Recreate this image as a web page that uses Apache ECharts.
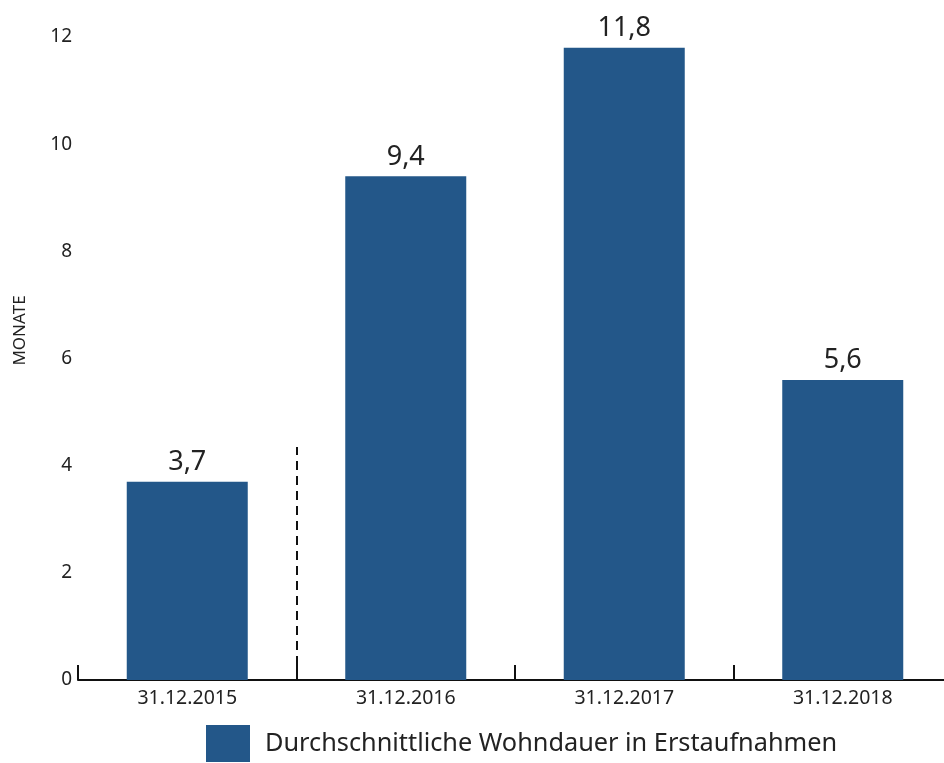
<!DOCTYPE html>
<html><head><meta charset="utf-8">
<script src="https://cdn.jsdelivr.net/npm/echarts@6/dist/echarts.min.js"></script>
<style>html,body{margin:0;padding:0;background:#fff}#c{width:944px;height:763px}</style>
</head><body><div id="c"></div>
<script>
const categories = ['31.12.2015', '31.12.2016', '31.12.2017', '31.12.2018'];
const values = [3.7, 9.4, 11.8, 5.6];
const seriesName = 'Durchschnittliche Wohndauer in Erstaufnahmen';
const yAxisName = 'MONATE';
const separatorAt = 1;      // boundary between 1st and 2nd category
const separatorTop = 4.35;  // height of dashed separator in months

const chart = echarts.init(document.getElementById('c'));
const font = '"Noto Sans", "Open Sans", sans-serif';
chart.setOption({
  animation: false,
  grid: { left: 78, width: 874, top: 37, bottom: 83, outerBoundsMode: 'none', containLabel: false },
  legend: {
    data: [seriesName], left: 206, bottom: 1, padding: 0,
    itemWidth: 44, itemHeight: 37, itemGap: 10,
    textStyle: { fontSize: 25.3, color: '#222', fontFamily: font, padding: [3, 0, 0, 10] },
    icon: 'rect'
  },
  xAxis: [{
    type: 'category', data: categories,
    axisLine: { lineStyle: { color: '#111', width: 2 } },
    axisTick: { show: true, inside: true, length: 15, lineStyle: { color: '#111', width: 2 },
      interval: 0, alignWithLabel: false },
    axisLabel: { fontSize: 19.5, color: '#222', fontFamily: font, margin: 8 }
  }, {
    type: 'value', min: 0, max: categories.length, show: false
  }],
  yAxis: {
    type: 'value', min: 0, max: 12, interval: 2,
    name: yAxisName, nameLocation: 'middle', nameGap: 49,
    nameTextStyle: { fontSize: 17, color: '#222', fontFamily: font, padding: [0, 0, 0, 56] },
    axisLine: { show: false }, axisTick: { show: false }, splitLine: { show: false },
    axisLabel: { fontSize: 19, color: '#222', fontFamily: font, margin: 6 }
  },
  series: [{
    name: seriesName, type: 'bar', data: values, barWidth: 121,
    itemStyle: { color: '#235789' },
    label: { show: true, position: 'top', distance: 6, fontSize: 27, color: '#222', fontFamily: font,
      formatter: p => String(p.value).replace('.', ',') }
  }, {
    type: 'line', xAxisIndex: 1, data: [], silent: true,
    markLine: {
      symbol: 'none', silent: true, label: { show: false },
      lineStyle: { color: '#111', type: [9, 6], width: 2 },
      data: [[{ coord: [separatorAt, 0] }, { coord: [separatorAt, separatorTop] }]]
    }
  }]
});
</script></body></html>
